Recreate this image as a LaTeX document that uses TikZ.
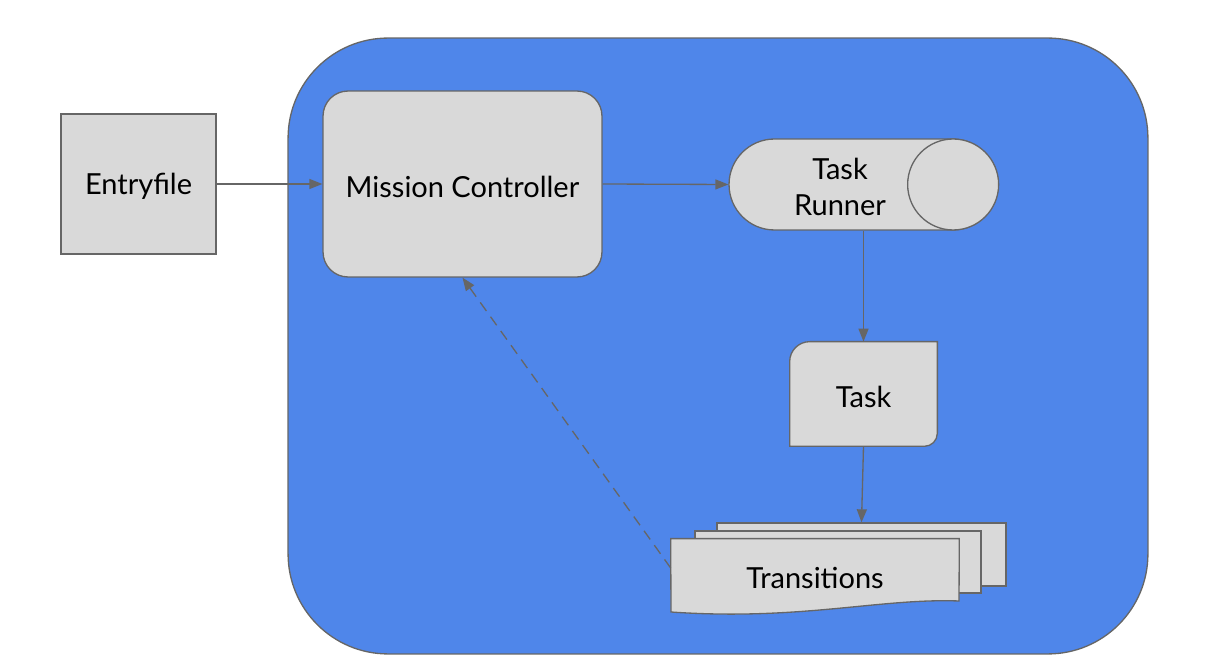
\documentclass[tikz,border=0pt]{standalone}
\usepackage{fontspec}
\setmainfont{Lato}
\usepackage{tikz}
\usetikzlibrary{arrows.meta, positioning, calc}

\definecolor{panelblue}{HTML}{4F86EA}
\definecolor{boxgray}{HTML}{D9D9D9}
\definecolor{linegray}{HTML}{666666}

\begin{document}
\begin{tikzpicture}[
  x=0.02cm, y=-0.02cm,
  font=\fontsize{16.5}{20}\selectfont,
  box/.style  = {draw=linegray, fill=boxgray, line width=0.75pt},
  txt/.style  = {yshift=-0.05cm},
  arr/.style  = {-{Triangle[length=2.6mm, width=2mm]}, line width=0.75pt, linegray},
  darr/.style = {arr, dash pattern=on 6pt off 4pt},
]
\useasboundingbox (0,0) rectangle (1231,668);

%% ── Container ──────────────────────────────────────────────────────────────
\node[box, fill=panelblue, rounded corners=2cm,
  minimum width=17.2cm, minimum height=12.32cm] (engine) at (718,346) {};

%% ── Entry + controller ─────────────────────────────────────────────────────
\node[box, minimum width=3.1cm, minimum height=2.8cm] (entry) at (138.5,184) {};
\node[txt] (entrylabel) at (entry.center) {Entryfile};
\node[box, rounded corners=0.5cm, minimum width=5.58cm, minimum height=3.72cm]
  (mc) at (462.5,184) {};
\node[txt] (mclabel) at (mc.center) {Mission Controller};

%% ── Task runner (horizontal drum) ──────────────────────────────────────────
\node[box, rounded corners=0.91cm, minimum width=5.38cm, minimum height=1.82cm]
  (runner) at (863.5,184.5) {};
\draw[box] ([xshift=-0.91cm]runner.east) circle[radius=0.91cm];
\node[align=center, txt] (runnerlabel) at ([xshift=-0.47cm]runner.center) {Task\\Runner};

%% ── Task ───────────────────────────────────────────────────────────────────
\node[minimum width=2.94cm, minimum height=2.08cm] (task) at (863.5,394) {};
\draw[box] (task.north east) -- ([yshift=0.26cm]task.south east)
  arc[start angle=0, end angle=-90, radius=0.26cm] -- (task.south west)
  -- ([yshift=-0.4cm]task.north west)
  arc[start angle=180, end angle=90, radius=0.4cm] -- cycle;
\node[txt] (tasklabel) at (task.center) {Task};

%% ── Transitions (stacked sheets) ───────────────────────────────────────────
\node[box, minimum width=5.78cm, minimum height=1.26cm] (transback) at (861.5,554.5) {};
\node[box, minimum width=5.72cm, minimum height=1.24cm] (transmid) at (838,562) {};
\node[minimum width=5.76cm, minimum height=1.56cm] (trans) at (815,578) {};
\draw[box] (trans.north west) -- (trans.north east) -- (959,601)
  .. controls (880,598) and (800,621) .. (671,612) -- cycle;
\node (translabel) at (trans.center) {Transitions};

%% ── Connectors ─────────────────────────────────────────────────────────────
\draw[arr] (entry.east) -- (mc.west);
\draw[arr] (mc.east) -- (runner.west);
\draw[arr] (runner.south) -- (task.north);
\draw[arr] (task.south) -- (transback.north);
\draw[darr] ([yshift=0.2cm]trans.west) -- (mc.south);

\end{tikzpicture}
\end{document}
